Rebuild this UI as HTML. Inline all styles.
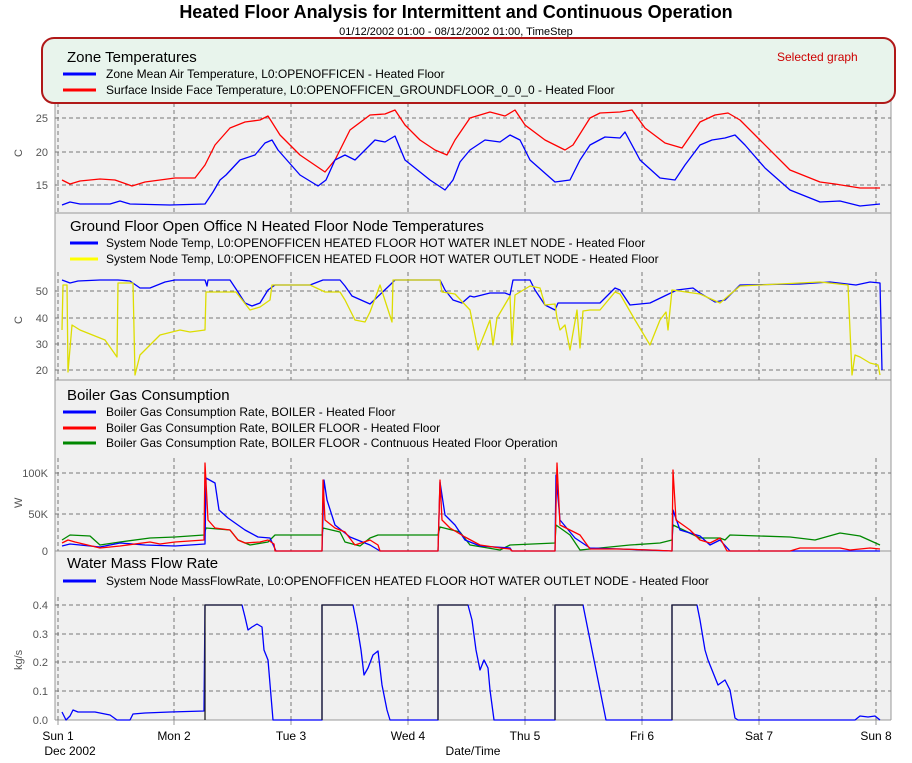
<!DOCTYPE html>
<html><head><meta charset="utf-8"><style>
body{margin:0;background:#fff;}
svg{display:block;font-family:"Liberation Sans",sans-serif;}
</style></head><body>
<svg width="912" height="763" viewBox="0 0 912 763">
<rect x="0" y="0" width="912" height="763" fill="#fff"/>
<rect x="55" y="40" width="836" height="680" fill="#f0f0f0"/>
<text x="456" y="18" text-anchor="middle" font-size="18" font-weight="bold">Heated Floor Analysis for Intermittent and Continuous Operation</text>
<text x="456" y="35" text-anchor="middle" font-size="11">01/12/2002 01:00 - 08/12/2002 01:00, TimeStep</text>
<g stroke="#999" stroke-width="1">
<line x1="55" y1="40" x2="55" y2="720"/><line x1="891" y1="40" x2="891" y2="720"/>
<line x1="55" y1="213" x2="891" y2="213"/><line x1="55" y1="380" x2="891" y2="380"/><line x1="55" y1="551" x2="891" y2="551"/>
<line x1="55" y1="720" x2="891" y2="720"/>
</g>
<g stroke="#777" stroke-dasharray="4,3" stroke-width="1" fill="none">
<path d="M58 103V213M174 103V213M291 103V213M408 103V213M525 103V213M642 103V213M759 103V213M876 103V213"/>
<path d="M55 118H891M55 152H891M55 185H891"/>
<path d="M58 272V380M174 272V380M291 272V380M408 272V380M525 272V380M642 272V380M759 272V380M876 272V380"/>
<path d="M55 291H891M55 318H891M55 344H891M55 370H891"/>
<path d="M58 458V551M174 458V551M291 458V551M408 458V551M525 458V551M642 458V551M759 458V551M876 458V551"/>
<path d="M55 473H891M55 514H891"/>
<path d="M58 597V720M174 597V720M291 597V720M408 597V720M525 597V720M642 597V720M759 597V720M876 597V720"/>
<path d="M55 605H891M55 634H891M55 662H891M55 691H891"/>
</g>
<g font-size="11" fill="#555" text-anchor="end">
<text x="48" y="122">25</text><text x="48" y="156">20</text><text x="48" y="189">15</text>
<text x="48" y="295">50</text><text x="48" y="322">40</text><text x="48" y="348">30</text><text x="48" y="374">20</text>
<text x="48" y="477">100K</text><text x="48" y="518">50K</text><text x="48" y="555">0</text>
<text x="48" y="609">0.4</text><text x="48" y="638">0.3</text><text x="48" y="666">0.2</text><text x="48" y="695">0.1</text><text x="48" y="724">0.0</text>
</g>
<g font-size="11" fill="#555">
<text transform="translate(22,157) rotate(-90)">C</text>
<text transform="translate(22,324) rotate(-90)">C</text>
<text transform="translate(22,508) rotate(-90)">W</text>
<text transform="translate(22,670) rotate(-90)">kg/s</text>
</g>
<g stroke="#999"><path d="M58 720v5M174 720v5M291 720v5M408 720v5M525 720v5M642 720v5M759 720v5M876 720v5"/></g>
<g font-size="12" fill="#000" text-anchor="middle">
<text x="58" y="740">Sun 1</text><text x="174" y="740">Mon 2</text><text x="291" y="740">Tue 3</text><text x="408" y="740">Wed 4</text><text x="525" y="740">Thu 5</text><text x="642" y="740">Fri 6</text><text x="759" y="740">Sat 7</text><text x="876" y="740">Sun 8</text>
<text x="70" y="755">Dec 2002</text><text x="473" y="755">Date/Time</text>
</g>
<rect x="42" y="38" width="853" height="65" rx="12" fill="#e8f4ec" stroke="#b01818" stroke-width="2"/>
<text x="67" y="62" font-size="15">Zone Temperatures</text>
<text x="777" y="61" font-size="12" fill="#c00">Selected graph</text>
<g font-size="12"><line x1="63" y1="74" x2="96" y2="74" stroke="#00f" stroke-width="3"/><text x="106" y="78">Zone Mean Air Temperature, L0:OPENOFFICEN - Heated Floor</text>
<line x1="63" y1="90" x2="96" y2="90" stroke="#f00" stroke-width="3"/><text x="106" y="94">Surface Inside Face Temperature, L0:OPENOFFICEN_GROUNDFLOOR_0_0_0 - Heated Floor</text></g>
<text x="70" y="231" font-size="15">Ground Floor Open Office N Heated Floor Node Temperatures</text>
<g font-size="12"><line x1="70" y1="243" x2="98" y2="243" stroke="#00f" stroke-width="3"/><text x="106" y="247">System Node Temp, L0:OPENOFFICEN HEATED FLOOR HOT WATER INLET NODE - Heated Floor</text>
<line x1="70" y1="259" x2="98" y2="259" stroke="#ff0" stroke-width="3"/><text x="106" y="263">System Node Temp, L0:OPENOFFICEN HEATED FLOOR HOT WATER OUTLET NODE - Heated Floor</text></g>
<text x="67" y="400" font-size="15">Boiler Gas Consumption</text>
<g font-size="12"><line x1="63" y1="412" x2="96" y2="412" stroke="#00f" stroke-width="3"/><text x="106" y="416">Boiler Gas Consumption Rate, BOILER - Heated Floor</text>
<line x1="63" y1="428" x2="96" y2="428" stroke="#f00" stroke-width="3"/><text x="106" y="432">Boiler Gas Consumption Rate, BOILER FLOOR - Heated Floor</text>
<line x1="63" y1="443" x2="96" y2="443" stroke="#080" stroke-width="3"/><text x="106" y="447">Boiler Gas Consumption Rate, BOILER FLOOR - Contnuous Heated Floor Operation</text></g>
<text x="67" y="568" font-size="15">Water Mass Flow Rate</text>
<g font-size="12"><line x1="63" y1="581" x2="96" y2="581" stroke="#00f" stroke-width="3"/><text x="106" y="585">System Node MassFlowRate, L0:OPENOFFICEN HEATED FLOOR HOT WATER OUTLET NODE - Heated Floor</text></g>
<g fill="none" stroke-width="1.3" stroke-linejoin="round">
<polyline stroke="#f00" points="62,180 70,184 80,181 100,179 115,180 132,186 145,182 160,180 175,178 195,178 205,165 215,145 230,128 245,122 260,120 268,116 280,135 300,155 325,172 335,160 350,130 370,115 385,114 395,110 405,125 420,140 435,150 447,155 455,140 470,118 490,112 505,116 515,110 525,125 545,140 565,150 573,145 590,118 600,113 620,112 632,110 645,128 665,143 682,148 700,122 715,115 728,113 740,120 760,140 790,170 820,182 835,184 860,188 880,188"/>
<polyline stroke="#00f" points="62,205 70,202 80,204 110,204 120,201 130,204 170,205 205,204 213,192 220,180 226,175 240,160 255,155 265,143 272,140 278,150 300,175 318,186 326,180 335,160 345,155 355,160 375,140 385,142 395,136 405,160 430,180 445,190 453,180 460,162 470,150 485,140 500,142 510,135 520,140 530,160 555,182 570,180 580,160 590,145 605,137 620,138 625,132 640,160 660,178 675,180 685,165 700,145 712,140 725,138 735,135 745,145 765,168 790,190 820,202 840,201 860,206 880,204"/>
<polyline stroke="#00f" points="62,280 70,283 78,281 100,280 118,280 130,281 140,288 150,288 165,282 175,280 205,280 207,286 208,280 230,280 238,292 245,303 252,306 260,303 268,290 275,285 280,285 310,285 323,280 340,280 345,286 352,296 370,304 390,285 395,280 440,280 445,290 453,300 462,303 470,296 474,297 490,293 505,293 510,295 513,280 530,280 535,290 545,305 555,310 558,303 600,303 615,288 620,290 630,305 650,303 677,290 693,288 700,293 715,302 725,300 740,285 800,284 830,282 856,285 870,282 880,283 882,370"/>
<polyline stroke="#dd0" points="62,330 63,285 67,285 68,372 72,325 80,330 90,334 105,340 117,357 118,283 133,283 135,375 140,355 160,335 180,330 190,332 205,330 206,292 236,292 250,310 260,307 270,300 272,285 310,285 325,292 340,292 345,300 355,320 365,322 370,312 380,285 392,322 393,280 440,280 442,292 455,294 470,310 478,350 484,335 490,320 493,345 497,318 510,296 512,345 515,295 530,286 540,288 545,305 555,304 557,318 560,330 565,325 570,350 577,310 580,348 583,311 590,310 600,310 615,292 620,294 635,320 650,345 660,320 666,312 668,330 672,290 700,294 720,303 740,286 820,282 848,285 852,375 855,355 860,357 870,363 878,365 880,375"/>
<polyline stroke="#080" points="62,540 70,535 90,536 100,545 120,542 150,538 175,537 204,535 206,528 230,530 238,540 250,545 268,542 275,535 322,535 323,528 340,532 345,542 360,546 370,538 378,535 438,535 440,527 460,532 470,545 500,550 510,545 555,543 556,525 570,535 580,550 630,545 660,543 672,540 673,525 700,538 720,538 725,540 730,535 790,537 815,540 840,533 860,536 880,545"/>
<polyline stroke="#00f" points="62,546 70,544 100,547 110,545 120,543 145,545 175,546 205,544 206,478 215,483 219,510 228,518 245,530 258,537 270,538 276,551 322,551 324,480 327,500 335,525 350,537 370,545 380,551 438,551 440,482 445,515 455,525 465,540 480,546 510,548 512,551 555,551 556,475 560,520 575,538 590,548 620,549 672,551 673,510 680,530 700,536 710,545 720,540 730,551 880,551"/>
<polyline stroke="#f00" points="62,543 68,540 75,542 100,548 120,546 150,542 160,544 175,542 204,540 205,463 208,520 215,528 230,530 238,540 245,543 260,542 268,540 274,544 275,551 322,551 323,480 325,520 335,528 345,532 355,545 370,540 378,545 380,551 438,551 440,480 442,520 450,528 465,537 480,545 500,548 510,549 512,551 555,551 557,463 560,525 580,535 590,549 620,549 650,550 672,551 673,470 676,520 690,530 700,540 710,543 720,538 727,551 740,551 790,551 800,548 840,548 850,550 870,548 880,549"/>
<polyline stroke="#00f" points="62,712 66,720 70,716 73,710 78,712 95,712 110,715 117,720 130,720 133,714 145,713 170,712 204,711 205,605 242,605 245,617 248,630 252,627 257,624 262,627 264,650 268,660 273,720 322,720 322,605 353,605 357,625 361,650 364,675 368,668 373,655 378,651 380,668 382,685 387,710 390,720 438,720 438,605 468,605 472,620 476,650 480,670 484,660 488,668 490,690 494,720 555,720 555,605 583,605 586,620 590,640 595,665 600,690 606,720 672,720 672,605 697,605 700,620 705,650 708,660 718,685 725,680 730,690 735,718 738,720 855,720 860,716 868,717 875,716 880,720"/>
<path stroke="#222" d="M205 720V605H242M322 720V605H353M438 720V605H468M555 720V605H583M672 720V605H697"/>
</g>
</svg>
</body></html>
